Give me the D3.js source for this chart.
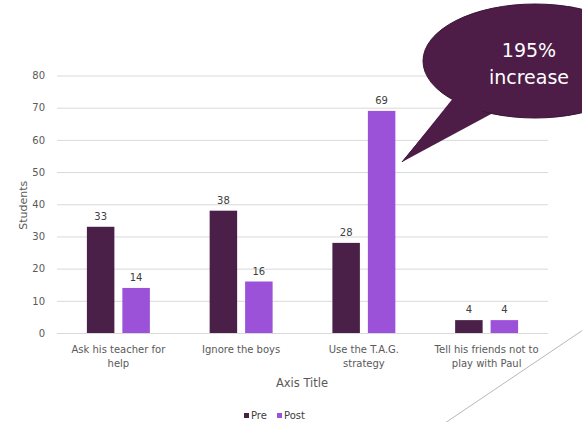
<!DOCTYPE html>
<html>
<head>
<meta charset="utf-8">
<script src="https://cdn.jsdelivr.net/npm/d3@7"></script>
<style>
  html, body { margin: 0; padding: 0; background: #fff; }
  svg { display: block; }
  text { font-family: "DejaVu Sans", Verdana, sans-serif; }
</style>
</head>
<body>
<svg id="chart" width="582" height="422"></svg>
<script>
// Survey responses: what Paul should do, before and after the lesson
const categories = [
  ["Ask his teacher for", "help"],
  ["Ignore the boys"],
  ["Use the T.A.G.", "strategy"],
  ["Tell his friends not to", "play with Paul"]
];
const seriesNames = ["Pre", "Post"];
const preValues = [33, 38, 28, 4];
const postValues = [14, 16, 69, 4];
const yTicks = [0, 10, 20, 30, 40, 50, 60, 70, 80];
const calloutLines = ["195%", "increase"];
const yAxisTitle = "Students";
const xAxisTitle = "Axis Title";

const colors = { Pre: "#4a2048", Post: "#9b51d8" };
const svg = d3.select("#chart");

const plot = { left: 57, right: 548, top: 75.5, bottom: 333 };

const catKeys = categories.map(c => c.join(" "));
const x0 = d3.scaleBand()
  .domain(catKeys)
  .range([plot.left, plot.right])
  .paddingInner(0.487)
  .paddingOuter(0.2435);
const x1 = d3.scaleBand()
  .domain(seriesNames)
  .range([0, x0.bandwidth()])
  .paddingInner(0.225)
  .paddingOuter(0);
const y = d3.scaleLinear().domain([0, 80]).range([plot.bottom, plot.top]);

// Gridlines
const yAxis = d3.axisLeft(y).tickValues(yTicks).tickSize(-(plot.right - plot.left)).tickPadding(12);
const gy = svg.append("g").attr("transform", `translate(${plot.left},0)`).call(yAxis);
gy.select(".domain").remove();
gy.selectAll(".tick line").attr("stroke", "#d9d9d9").attr("stroke-width", 1);
gy.selectAll(".tick text").attr("fill", "#595959").attr("font-size", 10);

// Category axis labels
const xAxis = d3.axisBottom(x0).tickSize(0).tickFormat("");
const gx = svg.append("g").attr("transform", `translate(0,${plot.bottom})`).call(xAxis);
gx.select(".domain").remove();
gx.selectAll(".tick").each(function(d, i) {
  const t = d3.select(this).append("text")
    .attr("fill", "#595959").attr("font-size", 10).attr("text-anchor", "middle");
  categories[i].forEach((line, j) => {
    t.append("tspan").attr("x", 0).attr("y", 20 + j * 14).text(line);
  });
});

// Bars
const rows = catKeys.map((k, i) => ({ key: k, Pre: preValues[i], Post: postValues[i] }));
const groups = svg.append("g").selectAll("g").data(rows).join("g")
  .attr("transform", d => `translate(${x0(d.key)},0)`);
const cells = groups.selectAll("g").data(d => seriesNames.map(s => ({ s, v: d[s] }))).join("g");
cells.append("rect")
  .attr("x", d => x1(d.s))
  .attr("y", d => y(d.v))
  .attr("width", x1.bandwidth())
  .attr("height", d => y(0) - y(d.v))
  .attr("fill", d => colors[d.s]);
cells.append("text")
  .attr("x", d => x1(d.s) + x1.bandwidth() / 2)
  .attr("y", d => y(d.v) - 7)
  .attr("text-anchor", "middle")
  .attr("font-size", 10)
  .attr("fill", "#404040")
  .text(d => d.v);

// Axis titles
svg.append("text")
  .attr("transform", `translate(27,${(plot.top + plot.bottom) / 2 + 1}) rotate(-90)`)
  .attr("text-anchor", "middle").attr("font-size", 11).attr("fill", "#595959")
  .text(yAxisTitle);
svg.append("text")
  .attr("x", 302).attr("y", 387)
  .attr("text-anchor", "middle").attr("font-size", 11.5).attr("fill", "#595959")
  .text(xAxisTitle);

// Legend
const legend = svg.append("g").attr("transform", "translate(244,417)");
const legendX = [0, 33];
seriesNames.forEach((s, i) => {
  const g = legend.append("g").attr("transform", `translate(${legendX[i]},0)`);
  g.append("rect").attr("x", 0).attr("y", -4).attr("width", 5).attr("height", 5).attr("fill", colors[s]);
  g.append("text").attr("x", 7).attr("y", 1.5).attr("font-size", 10).attr("fill", "#404040").text(s);
});

// Decorative slide line
svg.append("line")
  .attr("x1", 445).attr("y1", 423).attr("x2", 583).attr("y2", 330)
  .attr("stroke", "#b8b8b8").attr("stroke-width", 1);

// Speech bubble callout
const bubble = svg.append("g");
const ex = 535, ey = 61, rx = 112, ry = 57;
const tail = [[402, 162], [455, 98], [493, 113]];
bubble.append("path")
  .attr("d", d3.line()(tail))
  .attr("fill", "#4d1d48").attr("stroke", "#3a1436").attr("stroke-width", 1);
bubble.append("ellipse")
  .attr("cx", ex).attr("cy", ey).attr("rx", rx).attr("ry", ry)
  .attr("fill", "#4d1d48").attr("stroke", "#3a1436").attr("stroke-width", 1);
bubble.append("path")
  .attr("d", d3.line()(tail.map((p, i) => i === 0 ? p : [p[0] + (i === 1 ? 3 : -3), p[1] - 6])))
  .attr("fill", "#4d1d48");
calloutLines.forEach((line, i) => {
  bubble.append("text")
    .attr("x", 529).attr("y", 57 + i * 27)
    .attr("text-anchor", "middle")
    .attr("font-size", 19)
    .attr("fill", "#ffffff")
    .text(line);
});
</script>
</body>
</html>
